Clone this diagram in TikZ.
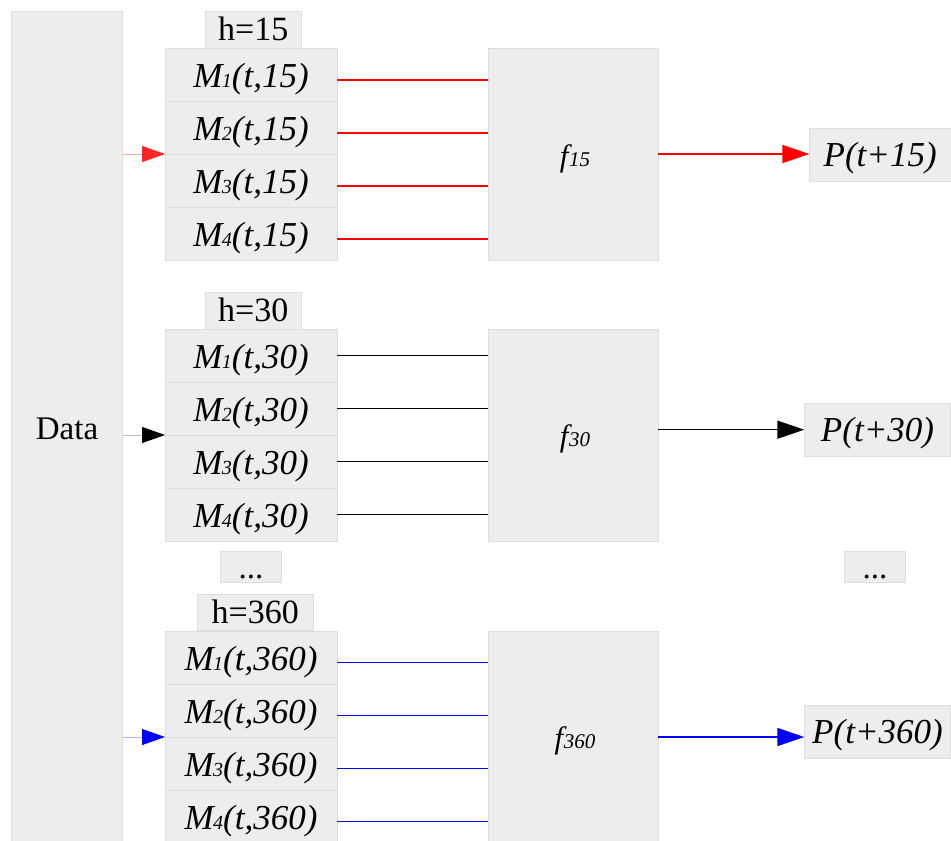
\documentclass[tikz,border=0pt]{standalone}
\usepackage{fontspec}
\setmainfont{Liberation Serif}
\usetikzlibrary{arrows.meta}
\definecolor{boxgray}{HTML}{EDEDED}
\definecolor{boxline}{HTML}{DEDEDE}
\newcommand{\mlab}[2]{\itshape M\kern-0.5pt{\fontsize{20}{20}\selectfont #1}(t,#2)}
\newcommand{\flab}[1]{\itshape\fontsize{31}{31}\selectfont f\kern0.5pt{\fontsize{21}{21}\selectfont #1}}
\begin{document}
\begin{tikzpicture}[x=1pt,y=-1pt,
  box/.style={draw=boxline, fill=boxgray, line width=0.7pt, inner sep=0pt, outer sep=0pt},
  mrow/.style={box, minimum width=172pt, minimum height=53pt, text height=30pt, text depth=4.4pt, font=\fontsize{35}{35}\selectfont},
  hbox/.style={box, minimum height=36.7pt, text height=27pt, text depth=5pt, font=\fontsize{34}{34}\selectfont},
  fbox/.style={box, minimum width=170pt},
  pbox/.style={box, minimum height=53pt, text height=29pt, text depth=5pt, font=\itshape\fontsize{35}{35}\selectfont},
  dotbox/.style={box, minimum width=61.5pt, text height=27pt, text depth=4pt, font=\fontsize{33}{33}\selectfont},
  feed/.style={line width=1.5pt},
  inarrow/.style={line width=0.9pt, -{Triangle[length=23pt,width=16pt,color=#1]}},
  outarrow/.style={line width=1.5pt, -{Triangle[length=27pt,width=18pt]}}
]
\useasboundingbox (0,0) rectangle (951,841);

% Data
\node[box, minimum width=111.7pt, minimum height=832pt] (data) at (66.8,427) {};
\node[font=\fontsize{33}{33}\selectfont, anchor=base, inner sep=0pt] (datalabel) at (67,439) {Data};

% ---------- Block 1 (h=15) ----------
\node[hbox, minimum width=96.7pt] (h1) at (253.3,29.7) {h=15};
\node[mrow] (m1a) at (251,74.5) {\mlab{1}{15}};
\node[mrow] (m1b) at (251,127.5) {\mlab{2}{15}};
\node[mrow] (m1c) at (251,180.5) {\mlab{3}{15}};
\node[mrow] (m1d) at (251,233.5) {\mlab{4}{15}};
\node[fbox, minimum height=212pt] (f1) at (573,154) {};
\node[anchor=base, inner sep=0pt] (f1l) at (575,166) {\flab{15}};
\node[pbox, minimum width=141.7pt] (p1) at (880.2,154.6) {P(t+15)};
\draw[red!35, inarrow=red!85] (data.east |- m1b.south) -- (m1b.south west);
\foreach \r in {a,b,c,d}{
  \draw[red, feed] ([yshift=-5.5pt]m1\r.east) -- ([yshift=-5.5pt]f1.west |- m1\r.east);
}
\draw[red, outarrow] (f1.east) -- (f1.east -| p1.west);

% ---------- Block 2 (h=30) ----------
\node[hbox, minimum width=96.7pt] (h2) at (253.3,310.6) {h=30};
\node[mrow] (m2a) at (251,355.5) {\mlab{1}{30}};
\node[mrow] (m2b) at (251,408.5) {\mlab{2}{30}};
\node[mrow] (m2c) at (251,461.5) {\mlab{3}{30}};
\node[mrow] (m2d) at (251,514.5) {\mlab{4}{30}};
\node[fbox, minimum height=212pt] (f2) at (573,435) {};
\node[anchor=base, inner sep=0pt] (f2l) at (575,446.7) {\flab{30}};
\node[pbox, minimum width=146.5pt] (p2) at (877.5,429.7) {P(t+30)};
\draw[black!25, inarrow=black] (data.east |- m2b.south) -- (m2b.south west);
\foreach \r in {a,b,c,d}{
  \draw[black, feed] (m2\r.east) -- (f2.west |- m2\r.east);
}
\draw[black, outarrow] (f2.east |- p2.west) -- (p2.west);

% dots
\node[dotbox] (dl) at (251,567) {...};
\node[dotbox] (dr) at (875,567) {...};

% ---------- Block 3 (h=360) ----------
\node[hbox, minimum width=116.7pt] (h3) at (255.3,612.3) {h=360};
\node[mrow] (m3a) at (251,657.5) {\mlab{1}{360}};
\node[mrow] (m3b) at (251,710.5) {\mlab{2}{360}};
\node[mrow] (m3c) at (251,763.5) {\mlab{3}{360}};
\node[mrow] (m3d) at (251,816.5) {\mlab{4}{360}};
\node[fbox, minimum height=212pt] (f3) at (573,737) {};
\node[anchor=base, inner sep=0pt] (f3l) at (575,748) {\flab{360}};
\node[pbox, minimum width=146.5pt] (p3) at (877.5,731.5) {P(t+360)};
\draw[blue!30, inarrow=blue] (data.east |- m3b.south) -- (m3b.south west);
\foreach \r in {a,b,c,d}{
  \draw[blue, feed] ([yshift=-5pt]m3\r.east) -- ([yshift=-5pt]f3.west |- m3\r.east);
}
\draw[blue, outarrow] (f3.east) -- (f3.east -| p3.west);
\end{tikzpicture}
\end{document}
